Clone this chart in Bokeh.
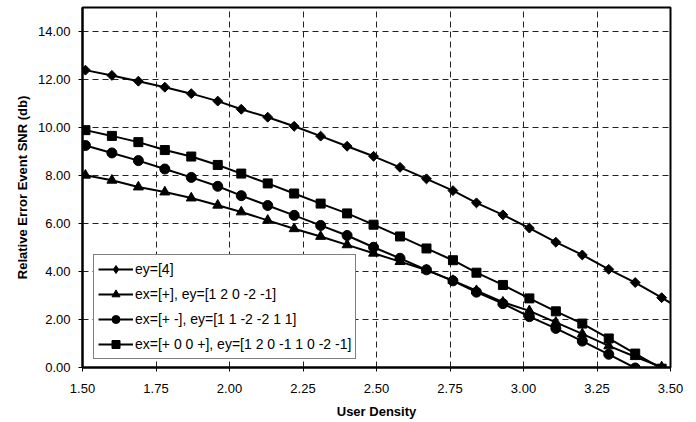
import numpy as np
from bokeh.plotting import figure
from bokeh.models import Range1d, FixedTicker, NumeralTickFormatter, Legend, LegendItem
from bokeh.embed import file_html
from bokeh.resources import INLINE

# ---- data ----
user_density = [1.42, 1.51, 1.60, 1.69, 1.78, 1.87, 1.96, 2.04, 2.13, 2.22, 2.31, 2.40, 2.49,
                2.58, 2.67, 2.76, 2.84, 2.93, 3.02, 3.11, 3.20, 3.29, 3.38, 3.47, 3.56]
snr_ey4 = [12.60, 12.39, 12.17, 11.93, 11.68, 11.41, 11.10, 10.76, 10.43, 10.05, 9.64, 9.22, 8.80,
           8.34, 7.86, 7.37, 6.86, 6.36, 5.81, 5.22, 4.69, 4.09, 3.54, 2.91, 2.25]
snr_ex1 = [8.22, 8.01, 7.80, 7.52, 7.31, 7.06, 6.76, 6.48, 6.13, 5.78, 5.46, 5.11, 4.76,
           4.41, 4.06, 3.62, 3.20, 2.72, 2.36, 1.88, 1.40, 0.90, 0.45, 0.02, -0.45]
snr_ex2 = [9.55, 9.25, 8.94, 8.62, 8.27, 7.92, 7.55, 7.16, 6.75, 6.34, 5.92, 5.50, 5.01,
           4.55, 4.07, 3.61, 3.14, 2.66, 2.12, 1.63, 1.10, 0.55, -0.02, -0.60, -1.20]
snr_ex3 = [10.12, 9.89, 9.65, 9.39, 9.06, 8.79, 8.44, 8.08, 7.67, 7.25, 6.83, 6.42, 5.95,
           5.46, 4.96, 4.47, 3.95, 3.44, 2.88, 2.34, 1.83, 1.21, 0.58, -0.05, -0.70]
series_labels = ["ey=[4]",
                 "ex=[+], ey=[1 2 0 -2 -1]",
                 "ex=[+ -], ey=[1 1 -2 -2 1 1]",
                 "ex=[+ 0 0 +], ey=[1 2 0 -1 1 0 -2 -1]"]
x_ticks = [1.50, 1.75, 2.00, 2.25, 2.50, 2.75, 3.00, 3.25, 3.50]
y_ticks = [0, 2, 4, 6, 8, 10, 12, 14]
x_title = "User Density"
y_title = "Relative Error Event SNR (db)"

FONT = "Liberation Sans"

p = figure(width=696, height=422, x_range=Range1d(1.5, 3.5), y_range=Range1d(0, 15),
           output_backend="svg", toolbar_location=None,
           min_border_left=82, min_border_right=26, min_border_top=7, min_border_bottom=55)
p.background_fill_color = "white"
p.border_fill_color = "white"
p.outline_line_color = "black"
p.outline_line_width = 2

for ax, ticks in ((p.xaxis[0], x_ticks), (p.yaxis[0], y_ticks)):
    ax.ticker = FixedTicker(ticks=ticks)
    ax.formatter = NumeralTickFormatter(format="0.00")
    ax.major_tick_out = 4
    ax.major_tick_in = 0
    ax.minor_tick_out = 0
    ax.minor_tick_in = 0
    ax.axis_line_width = 2
    ax.axis_line_color = "black"
    ax.major_tick_line_color = "black"
    ax.major_label_text_font = FONT
    ax.major_label_text_font_size = "13px"
    ax.major_label_text_color = "black"
    ax.axis_label_text_font = FONT
    ax.axis_label_text_font_size = "13px"
    ax.axis_label_text_font_style = "bold"
    ax.axis_label_text_color = "black"

p.xaxis.axis_label = x_title
p.yaxis.axis_label = y_title
p.xaxis.major_label_standoff = 12
p.xaxis.axis_label_standoff = 8
p.yaxis.major_label_standoff = 8
p.yaxis.axis_label_standoff = 5

p.xgrid.ticker = FixedTicker(ticks=x_ticks)
p.ygrid.ticker = FixedTicker(ticks=y_ticks)
for g in (p.xgrid[0], p.ygrid[0]):
    g.grid_line_color = "#222222"
    g.grid_line_dash = "6 4"
    g.grid_line_width = 1

# (marker, angle, size) for plot; legend marker for each series
markers = [("square", np.pi / 4, 7), ("triangle", 0, 10), ("circle", 0, 10), ("square", 0, 9)]
legend_markers = [("diamond", 13), ("triangle", 10), ("circle", 10), ("square", 9)]
all_y = [snr_ey4, snr_ex1, snr_ex2, snr_ex3]
items = []
for ys, (mk, ang, sz), (lmk, lsz), lab in zip(all_y, markers, legend_markers, series_labels):
    lr = p.line(user_density, ys, line_color="black", line_width=2)
    sr = p.scatter(user_density, ys, marker=mk, angle=ang, size=sz,
                   fill_color="black", line_color="black")
    if ang != 0:
        # legend-only proxy (no visible mark): a NaN point so the legend swatch is drawn
        lgr = p.scatter([np.nan], [np.nan], marker=lmk, size=lsz,
                        fill_color="black", line_color="black")
        items.append(LegendItem(label=lab, renderers=[lr, lgr]))
    else:
        items.append(LegendItem(label=lab, renderers=[lr, sr]))

legend = Legend(items=items, location=(11, 8))
legend.border_line_color = "black"
legend.border_line_width = 1
legend.background_fill_color = "white"
legend.background_fill_alpha = 1
legend.label_text_font = FONT
legend.label_text_font_size = "14px"
legend.label_text_color = "black"
legend.glyph_width = 35
legend.glyph_height = 20
legend.label_height = 20
legend.spacing = 5
legend.padding = 4
legend.margin = 0
legend.label_standoff = 2
p.add_layout(legend)

open("out.html", "w").write(file_html(p, INLINE))
